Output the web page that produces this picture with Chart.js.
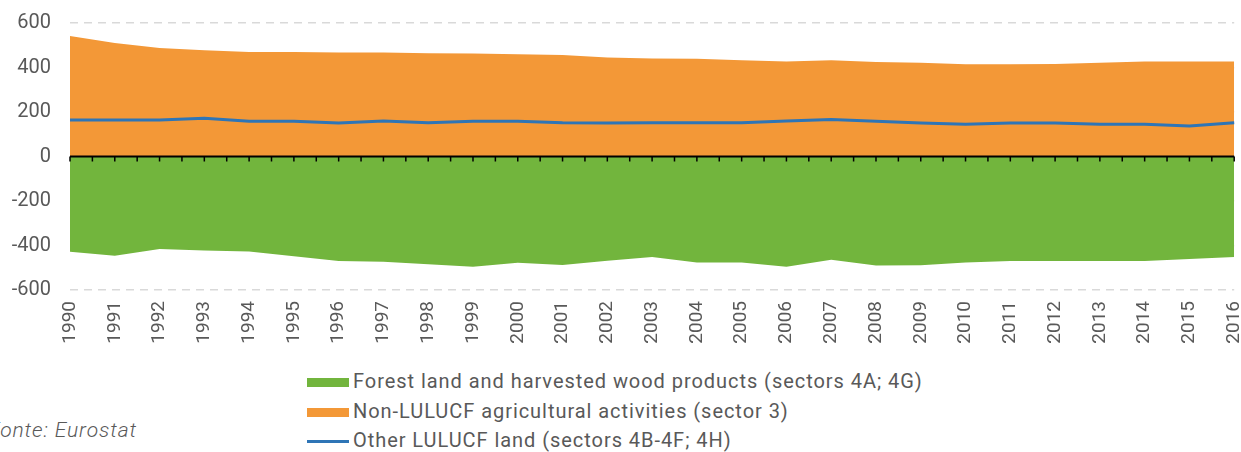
<!DOCTYPE html>
<html>
<head>
<meta charset="utf-8">
<script src="https://cdn.jsdelivr.net/npm/chart.js@4/dist/chart.umd.min.js"></script>
<style>
  html, body { margin: 0; padding: 0; background: #fff; overflow: hidden; }
  #wrap { position: relative; width: 1241px; height: 452px; overflow: hidden; font-family: Roboto, sans-serif; color: #595959; }
  #chart { position: absolute; left: 0; top: -8px; }
  .legend { position: absolute; left: 307px; top: 367px; font-size: 20px; letter-spacing: 0.95px; }
  .legend div { height: 29.5px; line-height: 29.5px; white-space: nowrap; }
  .sym { display: inline-block; width: 42px; vertical-align: middle; margin-right: 4px; }
  .source { position: absolute; left: -12px; top: 418px; font-size: 21px; line-height: 24px; font-style: italic; font-weight: 300; letter-spacing: 0.9px; }
</style>
</head>
<body>
<div id="wrap">
  <canvas id="chart" width="1260" height="358"></canvas>
  <div class="legend">
    <div><span class="sym" style="height:9px;background:#72b53d"></span>Forest land and harvested wood products (sectors 4A; 4G)</div>
    <div><span class="sym" style="height:9px;background:#f39837"></span>Non-LULUCF agricultural activities (sector 3)</div>
    <div><span class="sym" style="height:3px;background:#2e75b6"></span>Other LULUCF land (sectors 4B-4F; 4H)</div>
  </div>
  <div class="source">Fonte: Eurostat</div>
</div>
<script>
var years = ['1990','1991','1992','1993','1994','1995','1996','1997','1998','1999',
             '2000','2001','2002','2003','2004','2005','2006','2007','2008','2009',
             '2010','2011','2012','2013','2014','2015','2016'];

var forest = [-428,-446,-416,-422,-427,-448,-470,-473,-484,-496,
              -478,-488,-469,-452,-476,-476,-496,-464,-490,-489,
              -476,-470,-470,-470,-470,-461,-452];

var agriculture = [542,510,488,478,470,470,467,467,464,463,
                   460,456,445,440,439,433,427,433,425,421,
                   415,415,416,421,427,427,427];

var otherLand = [164,164,164,172,158,158,151,160,152,158,
                 158,152,151,152,152,152,160,166,158,151,
                 145,151,151,145,145,137,152];

// black zero line with small tick marks (categories and half steps)
var zeroAxis = {
    id: 'zeroAxis',
    afterDatasetsDraw: function (chart) {
        var ctx = chart.ctx;
        var x = chart.scales.x, y = chart.scales.y;
        var y0 = y.getPixelForValue(0);
        ctx.save();
        ctx.strokeStyle = '#000';
        ctx.lineWidth = 2;
        ctx.beginPath();
        ctx.moveTo(chart.chartArea.left, y0);
        ctx.lineTo(chart.chartArea.right, y0);
        ctx.stroke();
        ctx.lineWidth = 1.5;
        ctx.beginPath();
        for (var i = 0; i < years.length; i++) {
            var px = x.getPixelForValue(i);
            ctx.moveTo(px, y0);
            ctx.lineTo(px, y0 + 5);
            if (i < years.length - 1) {
                var mid = (px + x.getPixelForValue(i + 1)) / 2;
                ctx.moveTo(mid, y0);
                ctx.lineTo(mid, y0 + 5);
            }
        }
        ctx.stroke();
        ctx.restore();
    }
};

new Chart(document.getElementById('chart'), {
    type: 'line',
    data: {
        labels: years,
        datasets: [{
            label: 'Other LULUCF land (sectors 4B-4F; 4H)',
            data: otherLand,
            borderColor: '#2e75b6',
            borderWidth: 3,
            pointRadius: 0,
            fill: false,
            order: 0
        }, {
            label: 'Non-LULUCF agricultural activities (sector 3)',
            data: agriculture,
            borderColor: '#f39837',
            backgroundColor: '#f39837',
            borderWidth: 0,
            pointRadius: 0,
            fill: 'origin',
            order: 1
        }, {
            label: 'Forest land and harvested wood products (sectors 4A; 4G)',
            data: forest,
            borderColor: '#72b53d',
            backgroundColor: '#72b53d',
            borderWidth: 0,
            pointRadius: 0,
            fill: 'origin',
            order: 2
        }]
    },
    options: {
        responsive: false,
        animation: false,
        layout: { padding: { top: 14, right: 0, left: 0, bottom: 0 } },
        plugins: { legend: { display: false }, tooltip: { enabled: false } },
        elements: { line: { tension: 0 } },
        scales: {
            x: {
                grid: { display: false },
                border: { display: false },
                ticks: {
                    color: '#595959',
                    font: { family: 'Roboto', size: 19 },
                    minRotation: 90,
                    maxRotation: 90,
                    autoSkip: false,
                    padding: 3
                },
                afterFit: function (scale) { scale.height = 60; }
            },
            y: {
                min: -600,
                max: 600,
                border: { display: false, dash: [8, 6] },
                grid: {
                    color: '#d9d9d9',
                    lineWidth: 1.5,
                    drawTicks: false
                },
                ticks: {
                    stepSize: 100,
                    color: '#595959',
                    font: { family: 'Roboto', size: 20 },
                    padding: 19,
                    callback: function (v) { return v % 200 === 0 ? v : ''; }
                },
                afterFit: function (scale) { scale.width = 70; }
            }
        }
    },
    plugins: [zeroAxis]
});
</script>
</body>
</html>
